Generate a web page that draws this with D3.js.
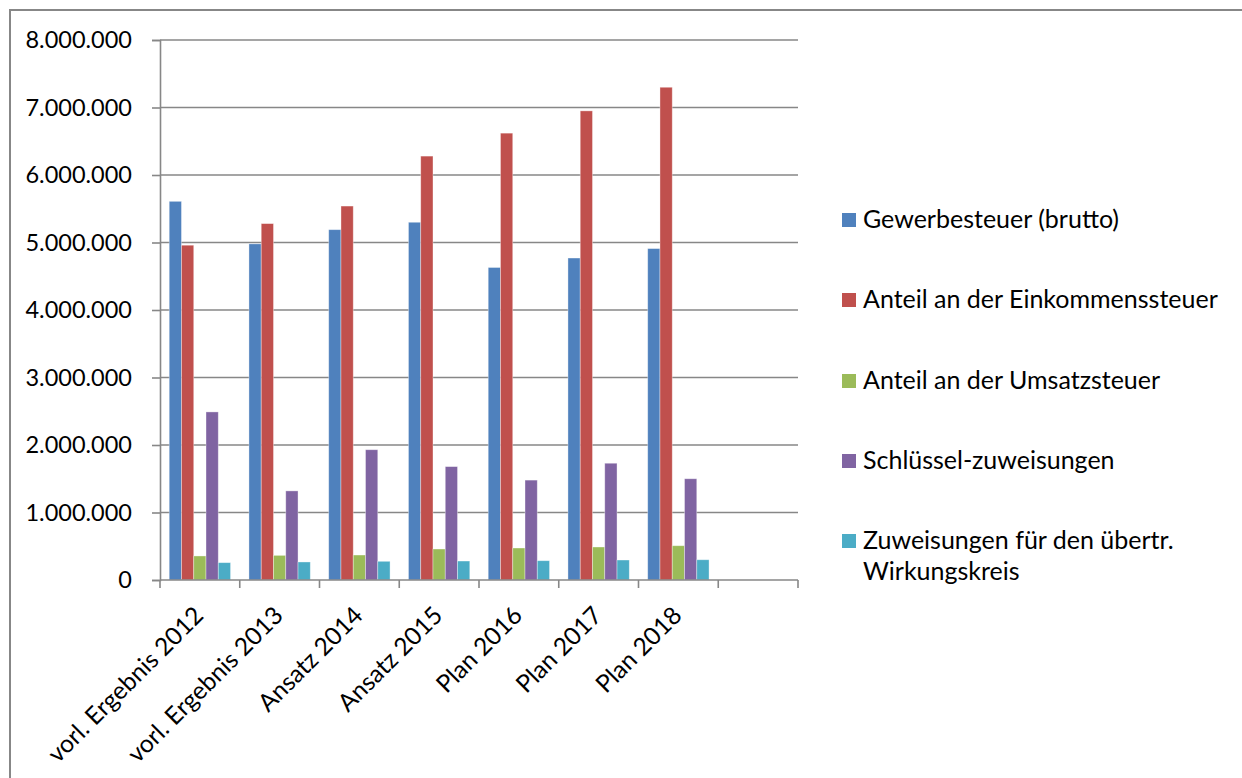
<!DOCTYPE html>
<html>
<head>
<meta charset="utf-8">
<script src="https://cdn.jsdelivr.net/npm/d3@7"></script>
<style>
  html, body { margin: 0; padding: 0; background: #fff; }
  svg { display: block; }
  text { font-family: Lato, "Open Sans", sans-serif; fill: #000; }
</style>
</head>
<body>
<svg id="chart" width="1242" height="778"></svg>
<script>
// ---- data ----
const categories = ["vorl. Ergebnis 2012", "vorl. Ergebnis 2013", "Ansatz 2014", "Ansatz 2015", "Plan 2016", "Plan 2017", "Plan 2018", ""];
const seriesNames = ["Gewerbesteuer (brutto)", "Anteil an der Einkommenssteuer", "Anteil an der Umsatzsteuer", "Schlüssel-zuweisungen", "Zuweisungen für den übertr. Wirkungskreis"];
const gewerbesteuer = [5610000, 4980000, 5190000, 5300000, 4630000, 4770000, 4910000];
const einkommenssteuer = [4960000, 5280000, 5540000, 6280000, 6620000, 6950000, 7300000];
const umsatzsteuer = [356000, 365000, 370000, 459000, 474000, 489000, 508000];
const schluesselzuweisungen = [2490000, 1320000, 1930000, 1680000, 1480000, 1730000, 1500000];
const zuweisungenWK = [257000, 267000, 277000, 281000, 286000, 296000, 300000];
const yTicks = [0, 1000000, 2000000, 3000000, 4000000, 5000000, 6000000, 7000000, 8000000];
const colors = ["#4F81BD", "#C0504D", "#9BBB59", "#8064A2", "#4BACC6"];

const seriesValues = [gewerbesteuer, einkommenssteuer, umsatzsteuer, schluesselzuweisungen, zuweisungenWK];

// ---- chart ----
const svg = d3.select("#chart");
const grey = "#878787";
const plot = { left: 160, right: 798, top: 40, bottom: 580 };

// outer border
svg.append("rect")
  .attr("x", 10).attr("y", 10)
  .attr("width", 1250).attr("height", 800)
  .attr("fill", "none").attr("stroke", grey).attr("stroke-width", 2);

const x0 = d3.scaleBand().domain(categories.map((c, i) => i)).range([plot.left, plot.right]).padding(0);
const bw = x0.bandwidth();
const barW = bw / 6.5;
const x1 = d3.scaleBand().domain(d3.range(seriesNames.length)).range([0.75 * barW, bw - 0.75 * barW]).padding(0);
const y = d3.scaleLinear().domain([0, 8000000]).range([plot.bottom, plot.top]);

const de = d3.formatLocale({ decimal: ",", thousands: ".", grouping: [3], currency: ["", " €"] });
const fmt = de.format(",d");

// gridlines
svg.append("g").selectAll("line").data(yTicks.filter(d => d > 0)).join("line")
  .attr("x1", plot.left).attr("x2", plot.right)
  .attr("y1", d => y(d)).attr("y2", d => y(d))
  .attr("stroke", grey).attr("stroke-width", 1.6);

// bars
const groups = svg.append("g").selectAll("g").data(categories.slice(0, 7)).join("g")
  .attr("transform", (d, i) => `translate(${x0(i)},0)`);
groups.each(function(c, ci) {
  d3.select(this).selectAll("rect").data(seriesValues.map((s, si) => ({ si, v: s[ci] }))).join("rect")
    .attr("x", d => x1(d.si))
    .attr("width", x1.bandwidth())
    .attr("y", d => y(d.v))
    .attr("height", d => y(0) - y(d.v))
    .attr("fill", d => colors[d.si])
    .attr("stroke", "rgba(255,255,255,0.45)")
    .attr("stroke-width", 0.8);
});

// y axis
const yAxis = d3.axisLeft(y).tickValues(yTicks).tickSize(8).tickFormat(fmt);
const gy = svg.append("g").attr("transform", `translate(${plot.left},0)`).call(yAxis);
gy.select(".domain").attr("stroke", grey).attr("stroke-width", 1.6);
gy.selectAll(".tick line").attr("stroke", grey).attr("stroke-width", 1.6);
gy.selectAll(".tick text")
  .attr("x", -28)
  .attr("font-size", 23.5)
  .attr("font-family", "Lato, sans-serif")
  .attr("fill", "#000");

// x axis
const xAxisLine = svg.append("g");
xAxisLine.append("line")
  .attr("x1", plot.left).attr("x2", plot.right)
  .attr("y1", y(0)).attr("y2", y(0))
  .attr("stroke", grey).attr("stroke-width", 1.6);
const boundaries = categories.map((c, i) => x0(i)).concat([plot.right]);
xAxisLine.selectAll("line.tk").data(boundaries).join("line")
  .attr("class", "tk")
  .attr("x1", d => d).attr("x2", d => d)
  .attr("y1", y(0)).attr("y2", y(0) + 8)
  .attr("stroke", grey).attr("stroke-width", 1.6);

svg.append("g").selectAll("text").data(categories.filter(c => c !== "")).join("text")
  .attr("transform", (d, i) => `translate(${x0(i) + bw / 2 + 5},617) rotate(-45)`)
  .attr("text-anchor", "end")
  .attr("font-size", 24.5)
  .text(d => d);

// legend
const legendBase = [228, 308, 389, 469, 549];
const legendLines = [["Gewerbesteuer (brutto)"], ["Anteil an der Einkommenssteuer"], ["Anteil an der Umsatzsteuer"], ["Schlüssel-zuweisungen"], ["Zuweisungen für den übertr.", "Wirkungskreis"]];
const lg = svg.append("g").selectAll("g").data(seriesNames).join("g");
lg.append("rect")
  .attr("x", 842).attr("y", (d, i) => legendBase[i] - 15)
  .attr("width", 14).attr("height", 14)
  .attr("fill", (d, i) => colors[i]);
lg.each(function(d, i) {
  const t = d3.select(this).append("text")
    .attr("x", 863).attr("y", legendBase[i])
    .attr("font-size", 25);
  legendLines[i].forEach((ln, k) => {
    t.append("tspan").attr("x", 863).attr("y", legendBase[i] + k * 31).text(ln);
  });
});
</script>
</body>
</html>
